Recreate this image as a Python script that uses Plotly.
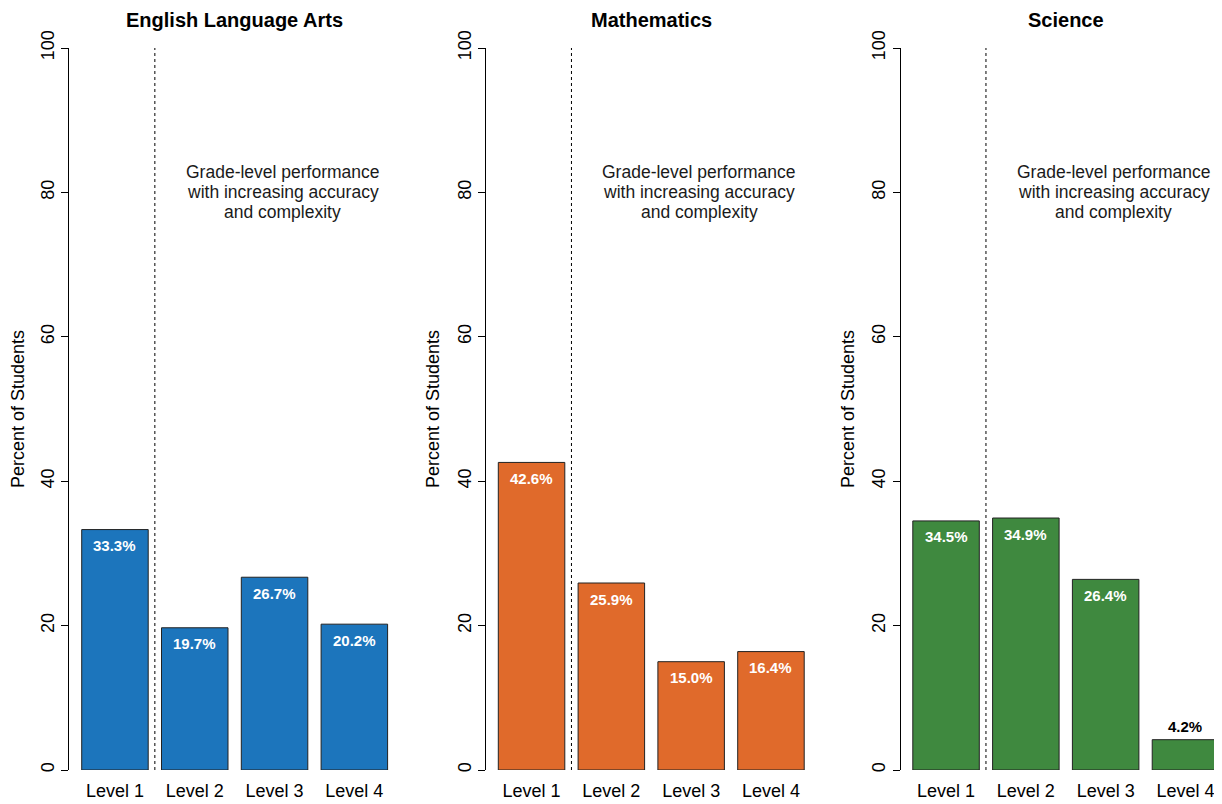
import plotly.graph_objects as go

levels = ["Level 1", "Level 2", "Level 3", "Level 4"]
subjects = ["English Language Arts", "Mathematics", "Science"]
ela = [33.3, 19.7, 26.7, 20.2]
math = [42.6, 25.9, 15.0, 16.4]
science = [34.5, 34.9, 26.4, 4.2]
series = [ela, math, science]
colors = ["#1C75BC", "#E06A2B", "#3F893F"]
note_lines = ["Grade-level performance", "with increasing accuracy", "and complexity"]
yticks = [0, 20, 40, 60, 80, 100]

OFF = 8                        # page body margin
W, H = 1222 - OFF, 804 - OFF   # figure size so it fills the window
FONT = "Liberation Sans, Arial, sans-serif"
u = 66.5                                           # px per R bar unit
x0s = [68.4 - OFF, 485.0 - OFF, 899.5 - OFF]       # px of R x=0 per panel
y_bot, y_top = 770 - OFF, 48 - OFF

fig = go.Figure()
layout = dict(
    width=W, height=H,
    margin=dict(l=0, r=0, t=0, b=0, autoexpand=False),
    paper_bgcolor="white", plot_bgcolor="white",
    showlegend=False,
    font=dict(family=FONT, color="black"),
    bargap=1 / 6,
)
annotations = []
shapes = []

for i, (name, vals, col) in enumerate(zip(subjects, series, colors)):
    ax = "" if i == 0 else str(i + 1)
    x0 = x0s[i]
    c0 = x0 + 0.7 * u
    left_px = x0 + 0.016 * u
    right_px = min(x0 + 4.984 * u, W)
    rng = [(left_px - c0) / (1.2 * u), (right_px - c0) / (1.2 * u)]
    fig.add_trace(go.Bar(
        x=levels, y=vals, xaxis="x" + ax, yaxis="y" + ax,
        marker=dict(color=col, line=dict(color="#222222", width=1)),
        hoverinfo="x+y",
    ))
    layout["xaxis" + ax] = dict(
        domain=[left_px / W, right_px / W], range=rng, anchor="y" + ax,
        showline=False, showgrid=False, zeroline=False, ticks="",
        tickfont=dict(size=18, color="black"), ticklabelstandoff=8,
        automargin=False, fixedrange=True,
    )
    layout["yaxis" + ax] = dict(
        domain=[(H - y_bot) / H, (H - y_top) / H], range=[0, 100],
        anchor="x" + ax, tickvals=yticks, ticks="outside", ticklen=7,
        tickcolor="black", tickwidth=1, showline=True, linecolor="black",
        linewidth=1, showgrid=False, zeroline=False, tickangle=-90,
        tickfont=dict(size=18, color="black"),
        title=dict(text="Percent of Students", font=dict(size=18, color="black"), standoff=10),
        automargin=False, fixedrange=True,
    )
    # subject title
    annotations.append(dict(
        text="<b>%s</b>" % name, xref="paper", yref="paper",
        x=(x0 + 2.5 * u) / W, y=(H - (20 - OFF)) / H, xanchor="center", yanchor="middle",
        showarrow=False, font=dict(size=20, color="black", family=FONT),
    ))
    # note text, one line per annotation for R-like line spacing
    for k, line in enumerate(note_lines):
        annotations.append(dict(
            text=line, xref="x" + ax, yref="y" + ax, x=2.1, y=80,
            yshift=20 * (1 - k), xanchor="center", yanchor="middle", showarrow=False,
            font=dict(size=17.5, color="#1a1a1a", family=FONT),
        ))
    # value labels
    for lv, v in zip(levels, vals):
        inside = v >= 10
        annotations.append(dict(
            text="<b>%.1f%%</b>" % v, xref="x" + ax, yref="y" + ax,
            x=lv, y=v, xanchor="center", yanchor="middle",
            yshift=-16 if inside else 13, showarrow=False,
            font=dict(size=15, color="white" if inside else "black", family=FONT),
        ))
    # dotted separator between Level 1 and Level 2
    shapes.append(dict(
        type="line", xref="x" + ax, yref="y" + ax, x0=0.5, x1=0.5, y0=0, y1=100,
        line=dict(color="black", width=1, dash="dot"),
    ))

layout["annotations"] = annotations
layout["shapes"] = shapes
fig.update_layout(**layout)
fig.write_html("out.html")
